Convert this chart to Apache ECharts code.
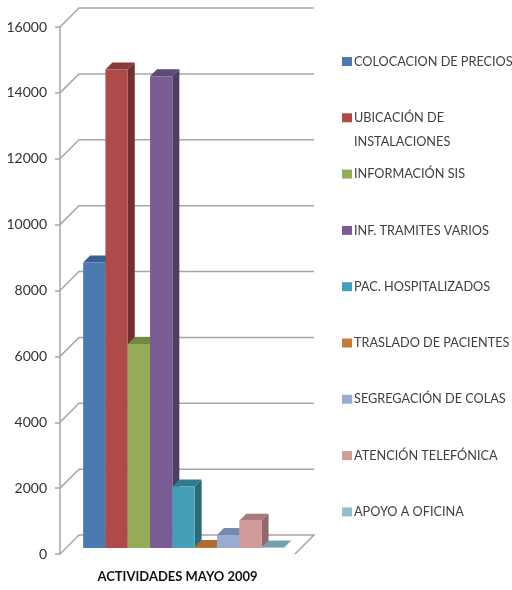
<!DOCTYPE html>
<html>
<head>
<meta charset="utf-8">
<style>
  html, body { margin: 0; padding: 0; background: #fff; }
  #chart { width: 512px; height: 590px; }
</style>
</head>
<body>
<div id="chart"></div>
<script src="https://cdn.jsdelivr.net/npm/echarts@6/dist/echarts.min.js"></script>
<script>
var categories = ['ACTIVIDADES MAYO 2009'];
var seriesNames = ['COLOCACION DE PRECIOS', 'UBICACIÓN DE INSTALACIONES', 'INFORMACIÓN SIS', 'INF. TRAMITES VARIOS', 'PAC. HOSPITALIZADOS', 'TRASLADO DE PACIENTES', 'SEGREGACIÓN DE COLAS', 'ATENCIÓN TELEFÓNICA', 'APOYO A OFICINA'];
var seriesValues = [8670, 14530, 6190, 14325, 1865, 30, 395, 830, 15];
var yTicks = [0, 2000, 4000, 6000, 8000, 10000, 12000, 14000, 16000];

var frontColors = ['#4a7ab0', '#ae4b4a', '#94ad56', '#7a5c94', '#449fb8', '#c67a35', '#98acd2', '#d39a9a', '#93c0d0'];
var topColors = ['#386090', '#8a3938', '#73893f', '#5f4876', '#2f7c90', '#b06c2c', '#7889aa', '#a97a7a', '#73a0ae'];
var sideColors = ['#2f5278', '#713030', '#5f7234', '#4f3d62', '#2d6a79', '#8f5522', '#66758f', '#8f6a6a', '#5f8794'];

var fontName = 'Lato, sans-serif';
var gridColor = '#a6a6a6';
var barW = 22.3;     // width of one bar
var barShift = 6;    // front of bars sits this far behind the axis plane
var barDepth = 7;
var wallShift = 19;  // back wall offset
var plotRight = 295;
var legendFont = 12.7;

function poly(points, fill) {
  return { type: 'polygon', shape: { points: points }, style: { fill: fill } };
}

function renderBar(params, api) {
  var i = params.seriesIndex - 1;
  var top = api.coord([0, api.value(1)]);
  var base = api.coord([0, 0]);
  var x0 = top[0] + barShift + (i - 4.5) * barW;
  var x1 = x0 + barW;
  var y0 = top[1] - barShift;
  var y1 = base[1] - barShift;
  return {
    type: 'group',
    children: [
      poly([[x1, y0], [x1 + barDepth, y0 - barDepth], [x1 + barDepth, y1 - barDepth], [x1, y1]], sideColors[i]),
      poly([[x0, y0], [x0 + barDepth, y0 - barDepth], [x1 + barDepth, y0 - barDepth], [x1, y0]], topColors[i]),
      poly([[x0, y0], [x1, y0], [x1, y1], [x0, y1]], frontColors[i])
    ]
  };
}

// back wall lines, they break diagonally towards the value axis
function renderWall(params, api) {
  var p = api.coord([0, api.value(1)]);
  var left = params.coordSys.x;
  var y = p[1];
  var pts = [[left, y], [left + wallShift, y - wallShift], [plotRight + wallShift, y - wallShift]];
  if (api.value(1) === 0) {
    pts.push([plotRight, y]);
  }
  return {
    type: 'polyline',
    shape: { points: pts },
    style: { fill: null, stroke: gridColor, lineWidth: 1.5 }
  };
}

var series = [{
  type: 'custom',
  name: 'wall',
  silent: true,
  renderItem: renderWall,
  data: yTicks.map(function (t) { return [0, t]; }),
  z: 1
}];
seriesNames.forEach(function (name, i) {
  series.push({
    type: 'custom',
    name: name,
    renderItem: renderBar,
    itemStyle: { color: frontColors[i] },
    data: [[0, seriesValues[i]]],
    z: 2
  });
});

var legends = seriesNames.map(function (name, i) {
  return {
    left: 342,
    top: 61 + 56.3 * i - 6,
    orient: 'vertical',
    padding: 0,
    icon: 'rect',
    itemWidth: 10,
    itemHeight: 9,
    itemGap: 0,
    data: [{ name: name, itemStyle: { color: frontColors[i] } }],
    // long name goes on two lines, second one is the graphic text below
    formatter: function (n) { return n === 'UBICACIÓN DE INSTALACIONES' ? 'UBICACIÓN DE' : n; },
    textStyle: { fontFamily: fontName, fontSize: legendFont, color: '#404040', padding: [0, 0, 0, -3] },
    selectedMode: false
  };
});

var chart = echarts.init(document.getElementById('chart'));
chart.setOption({
  animation: false,
  backgroundColor: '#fff',
  legend: legends,
  graphic: [{
    type: 'text',
    left: 354,
    top: 135,
    style: { text: 'INSTALACIONES', fontFamily: fontName, fontSize: legendFont, fill: '#404040' }
  }],
  grid: { left: 60, top: 27, width: 235, height: 527, outerBoundsMode: 'none' },
  xAxis: {
    type: 'category',
    data: categories,
    axisLine: { show: false },
    axisTick: { show: false },
    axisLabel: { margin: 16, fontFamily: fontName, fontSize: 13, fontWeight: 'bold', color: '#111', interval: 0 }
  },
  yAxis: {
    type: 'value',
    min: 0,
    max: 16000,
    interval: 2000,
    axisLine: { show: true, lineStyle: { color: gridColor, width: 1.5 } },
    axisTick: { show: true, length: 5, lineStyle: { color: gridColor, width: 1.5 } },
    axisLabel: { margin: 13, fontFamily: fontName, fontSize: 14, color: '#333', formatter: function (v) { return String(v); } },
    splitLine: { show: false }
  },
  series: series
});
</script>
</body>
</html>
